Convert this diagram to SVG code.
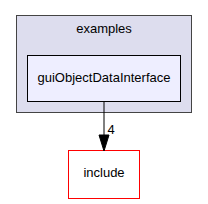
<svg xmlns="http://www.w3.org/2000/svg" width="208" height="204" viewBox="0 0 208 204">
<style>
text { font-family: "Liberation Sans", Arial, sans-serif; font-size: 13px; fill: #000; text-anchor: middle; }
</style>
<rect width="208" height="204" fill="#ffffff"/>
<g id="cluster_examples">
<rect x="16.5" y="15.5" width="175" height="97" fill="#ddddee" stroke="#444444"/>
<text x="104" y="33">examples</text>
</g>
<g id="node_guiObjectDataInterface">
<rect x="27.5" y="55.5" width="153" height="46" fill="#eeeeff" stroke="#000000"/>
<text x="104" y="82">guiObjectDataInterface</text>
</g>
<g id="node_include">
<rect x="68.5" y="150.5" width="71" height="48" fill="#ffffff" stroke="#ff0000"/>
<text x="104" y="177">include</text>
</g>
<g id="connectors">
<path d="M104,102 V136" stroke="#000000" stroke-width="1" fill="none"/>
<polygon points="99,135 109,135 104,151" fill="#000000" stroke="#000000"/>
<text x="111" y="134">4</text>
</g>
</svg>
